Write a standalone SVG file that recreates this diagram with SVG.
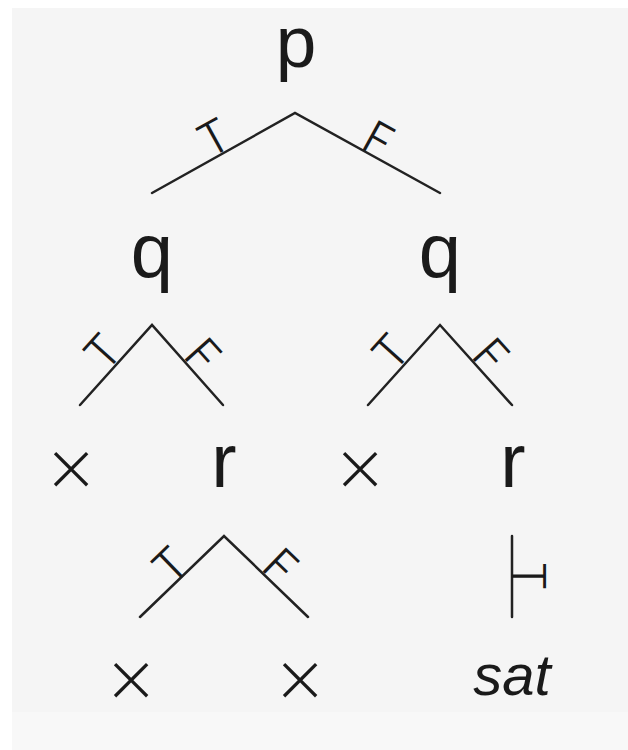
<svg xmlns="http://www.w3.org/2000/svg" width="628" height="750" viewBox="0 0 628 750">
<style>
.bg{fill:#f5f5f5}
.e{stroke:#222;stroke-width:2.5;fill:none;stroke-linecap:round;stroke-linejoin:miter}
.lbl{font-family:"Liberation Sans",Arial,sans-serif;font-size:76px;fill:#1a1a1a;text-anchor:middle}
.tf{font-family:Inter,"Liberation Sans",sans-serif;font-weight:300;font-size:46px;fill:#1a1a1a}
.x{font-family:Inter,"Liberation Sans",sans-serif;font-weight:200;font-size:80px;fill:#1a1a1a;text-anchor:middle}
.sat{font-family:"Liberation Sans",Arial,sans-serif;font-size:58px;font-style:italic;fill:#1a1a1a;text-anchor:middle}
</style>
<rect x="0" y="0" width="628" height="750" fill="#ffffff"/>
<rect x="12" y="8" width="616" height="742" fill="#f8f8f8"/>
<rect class="bg" x="12" y="8" width="616" height="704"/>

<g id="connectors">
  <polyline class="e" points="152,193 295,113 440,193"/>
  <polyline class="e" points="80,405 152,325 223,405"/>
  <polyline class="e" points="368,405 440,325 512,405"/>
  <polyline class="e" points="140,617 224,536 308,617"/>
  <line class="e" x1="512" y1="536" x2="512" y2="617"/>
  <text class="tf" text-anchor="middle" transform="translate(222,152) rotate(-29)">T</text>
  <text class="tf" transform="translate(363,150) rotate(29)" x="-5">F</text>
  <text class="tf" text-anchor="middle" transform="translate(115,363) rotate(-48)">T</text>
  <text class="tf" transform="translate(185,360) rotate(48)" x="-5">F</text>
  <text class="tf" text-anchor="middle" transform="translate(403,363) rotate(-48)">T</text>
  <text class="tf" transform="translate(473,360) rotate(48)" x="-5">F</text>
  <text class="tf" text-anchor="middle" transform="translate(182,577) rotate(-44)">T</text>
  <text class="tf" transform="translate(263,572) rotate(44)" x="-5">F</text>
  <text class="tf" text-anchor="middle" transform="translate(512,576) rotate(90)">T</text>
</g>

<g id="node-p"><text class="lbl" x="296" y="67" style="font-size:73px">p</text></g>
<g id="node-q1"><text class="lbl" x="152" y="277">q</text></g>
<g id="node-q2"><text class="lbl" x="440" y="277">q</text></g>
<g id="node-x1"><text class="x" x="71" y="492">×</text></g>
<g id="node-r1"><text class="lbl" x="224" y="487">r</text></g>
<g id="node-x2"><text class="x" x="360" y="492">×</text></g>
<g id="node-r2"><text class="lbl" x="513" y="487">r</text></g>
<g id="node-x3"><text class="x" x="131" y="703">×</text></g>
<g id="node-x4"><text class="x" x="300" y="703">×</text></g>
<g id="node-sat"><text class="sat" x="512" y="695">sat</text></g>
</svg>
